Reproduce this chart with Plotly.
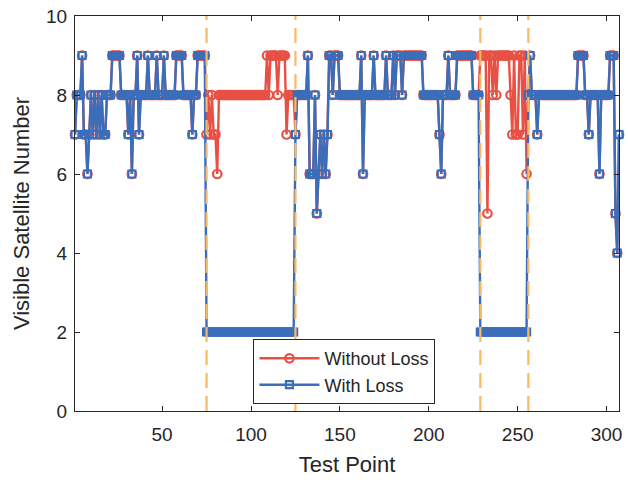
import plotly.graph_objects as go

# Test point index along the route
test_point = list(range(1, 308))

# Number of visible satellites at each test point (no signal loss)
sats_without_loss = [
    7, 8, 8, 8, 9, 7, 7, 6, 7, 8,
    7, 8, 7, 8, 7, 8, 7, 7, 8, 8,
    8, 9, 9, 9, 9, 9, 8, 8, 8, 8,
    7, 8, 6, 8, 8, 9, 7, 8, 8, 8,
    8, 9, 8, 8, 8, 8, 9, 8, 8, 8,
    9, 8, 8, 8, 8, 8, 8, 9, 9, 9,
    9, 8, 8, 8, 8, 8, 7, 8, 8, 9,
    9, 9, 9, 9, 7, 8, 7, 8, 7, 7,
    6, 8, 8, 8, 8, 8, 8, 8, 8, 8,
    8, 8, 8, 8, 8, 8, 8, 8, 8, 8,
    8, 8, 8, 8, 8, 8, 8, 8, 9, 8,
    9, 9, 9, 9, 8, 9, 9, 9, 9, 7,
    8, 8, 8, 8, 7, 8, 8, 8, 8, 8,
    8, 9, 6, 6, 6, 8, 5, 6, 7, 6,
    7, 6, 7, 9, 9, 8, 9, 9, 9, 8,
    8, 8, 8, 8, 8, 8, 8, 8, 8, 8,
    8, 9, 6, 8, 8, 8, 8, 8, 9, 8,
    8, 8, 8, 8, 8, 9, 8, 8, 8, 9,
    8, 9, 9, 9, 8, 9, 9, 9, 9, 9,
    9, 9, 9, 9, 9, 9, 8, 8, 8, 8,
    8, 8, 8, 8, 8, 7, 6, 8, 8, 8,
    9, 8, 8, 8, 8, 9, 9, 9, 9, 9,
    9, 9, 9, 9, 8, 8, 8, 8, 9, 9,
    9, 9, 5, 9, 9, 8, 9, 8, 9, 9,
    9, 9, 9, 9, 9, 8, 7, 9, 7, 7,
    9, 9, 7, 9, 6, 8, 9, 8, 8, 8,
    7, 8, 8, 8, 8, 8, 8, 8, 8, 8,
    8, 8, 8, 8, 8, 8, 8, 8, 8, 8,
    8, 8, 8, 9, 9, 9, 9, 8, 8, 7,
    8, 8, 8, 8, 8, 6, 8, 8, 8, 8,
    8, 9, 9, 9, 5, 4, 7,
]

# Number of visible satellites when the signal is lost in two stretches
sats_with_loss = [
    7, 8, 8, 8, 9, 7, 7, 6, 7, 8,
    7, 8, 7, 8, 7, 8, 7, 7, 8, 8,
    8, 9, 9, 9, 9, 9, 8, 8, 8, 8,
    7, 8, 6, 8, 8, 9, 7, 8, 8, 8,
    8, 9, 8, 8, 8, 8, 9, 8, 8, 8,
    9, 8, 8, 8, 8, 8, 8, 9, 9, 9,
    9, 8, 8, 8, 8, 8, 7, 8, 8, 9,
    9, 9, 9, 9, 2, 2, 2, 2, 2, 2,
    2, 2, 2, 2, 2, 2, 2, 2, 2, 2,
    2, 2, 2, 2, 2, 2, 2, 2, 2, 2,
    2, 2, 2, 2, 2, 2, 2, 2, 2, 2,
    2, 2, 2, 2, 2, 2, 2, 2, 2, 2,
    2, 2, 2, 2, 7, 8, 8, 8, 8, 8,
    8, 9, 6, 6, 6, 8, 5, 6, 7, 6,
    7, 6, 7, 9, 9, 8, 9, 9, 9, 8,
    8, 8, 8, 8, 8, 8, 8, 8, 8, 8,
    8, 9, 6, 8, 8, 8, 8, 8, 9, 8,
    8, 8, 8, 8, 8, 9, 8, 8, 8, 9,
    8, 9, 9, 9, 8, 9, 9, 9, 9, 9,
    9, 9, 9, 9, 9, 9, 8, 8, 8, 8,
    8, 8, 8, 8, 8, 7, 6, 8, 8, 8,
    9, 8, 8, 8, 8, 9, 9, 9, 9, 9,
    9, 9, 9, 9, 8, 8, 8, 8, 2, 2,
    2, 2, 2, 2, 2, 2, 2, 2, 2, 2,
    2, 2, 2, 2, 2, 2, 2, 2, 2, 2,
    2, 2, 2, 2, 2, 8, 9, 8, 8, 8,
    7, 8, 8, 8, 8, 8, 8, 8, 8, 8,
    8, 8, 8, 8, 8, 8, 8, 8, 8, 8,
    8, 8, 8, 9, 9, 9, 9, 8, 8, 7,
    8, 8, 8, 8, 8, 6, 8, 8, 8, 8,
    8, 9, 9, 9, 5, 4, 7,
]

# Boundaries of the signal-loss stretches
loss_bounds = [75, 125, 229, 256]

x_ticks = [50, 100, 150, 200, 250, 300]
y_ticks = [0, 2, 4, 6, 8, 10]

RED = "rgb(232,80,68)"
BLUE = "rgb(58,110,186)"
ORANGE = "rgb(250,185,100)"
INK = "rgb(38,38,38)"
FONT = "Liberation Sans, Arial, sans-serif"

fig = go.Figure()

fig.add_trace(go.Scatter(
    x=test_point, y=sats_without_loss, name="Without Loss",
    mode="lines+markers",
    line=dict(color=RED, width=2.4),
    marker=dict(symbol="circle-open", size=8.5, color=RED, line=dict(width=2.2, color=RED)),
    cliponaxis=False,
))
fig.add_trace(go.Scatter(
    x=test_point, y=sats_with_loss, name="With Loss",
    mode="lines+markers",
    line=dict(color=BLUE, width=2.4),
    marker=dict(symbol="square-open", size=7, color=BLUE, line=dict(width=2.2, color=BLUE)),
    cliponaxis=False,
))

for xb in loss_bounds:
    fig.add_vline(x=xb, line=dict(color=ORANGE, width=2.2, dash="15px,8px"), layer="above")

axis_common = dict(
    showline=True, linecolor=INK, linewidth=1, mirror="ticks",
    ticks="inside", ticklen=5, tickcolor=INK, tickwidth=1,
    showgrid=False, zeroline=False,
    tickfont=dict(family=FONT, size=19, color=INK),
)

fig.update_xaxes(
    range=[1, 307], tickvals=x_ticks, ticklabelstandoff=6,
    title=dict(text="Test Point", font=dict(family=FONT, size=22, color=INK), standoff=12),
    **axis_common,
)
fig.update_yaxes(
    range=[0, 10], tickvals=y_ticks, ticklabelstandoff=3,
    title=dict(text="Visible Satellite Number", font=dict(family=FONT, size=22, color=INK), standoff=10),
    **axis_common,
)

fig.update_layout(
    width=628, height=484,
    margin=dict(l=75, r=6, t=16, b=73),
    plot_bgcolor="white", paper_bgcolor="white",
    font=dict(family=FONT, color=INK),
    legend=dict(
        x=0.328, y=0.182, xanchor="left", yanchor="top",
        bgcolor="white", bordercolor=INK, borderwidth=1,
        font=dict(family=FONT, size=18, color=INK),
        itemwidth=60,
    ),
)

fig.write_html("out.html")
